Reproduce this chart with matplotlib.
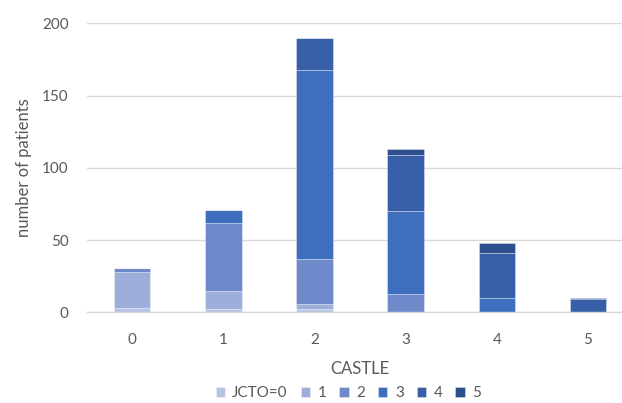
import numpy as np
import matplotlib
matplotlib.use("Agg")
import matplotlib.pyplot as plt

# ---------------------------------
# data: patients per CASTLE score, stacked by JCTO score
# ---------------------------------
castle = ["0", "1", "2", "3", "4", "5"]
jcto_labels = ["JCTO=0", "1", "2", "3", "4", "5"]

jcto0 = [3, 2, 2, 0, 0, 0]
jcto1 = [25, 13, 4, 0, 0, 0]
jcto2 = [3, 47, 31, 13, 0, 0]
jcto3 = [0, 9, 131, 57, 10, 0]
jcto4 = [0, 0, 22, 39, 31, 9]
jcto5 = [0, 0, 0, 4, 7, 1]

series = [jcto0, jcto1, jcto2, jcto3, jcto4, jcto5]
colors = ["#B7C3E5", "#9DAEDA", "#6F8ACB", "#3E6EBE", "#3860A8", "#2E4F8E"]

plt.rcParams["font.family"] = ["Lato", "DejaVu Sans"]
text_color = "#595959"

fig = plt.figure(figsize=(6.22, 4.03), dpi=100)
ax = fig.add_axes([0.1394, 0.225, 0.879, 0.717])

x = np.arange(len(castle))
bottom = np.zeros(len(castle))
for vals, col, lab in zip(series, colors, jcto_labels):
    ax.bar(x, vals, width=0.4, bottom=bottom, color=col, label=lab,
           edgecolor=(1, 1, 1, 0.6), linewidth=0.4, zorder=3)
    bottom += np.array(vals)

ax.set_xlim(-0.5, 5.5)
ax.set_ylim(0, 200)
ax.set_yticks([0, 50, 100, 150, 200])
ax.set_xticks(x)
ax.set_xticklabels(castle)

ax.yaxis.grid(True, color="#D9D9D9", linewidth=1, zorder=0)
for s in ["top", "right", "left"]:
    ax.spines[s].set_visible(False)
ax.spines["bottom"].set_color("#D9D9D9")
ax.spines["bottom"].set_linewidth(1)
ax.spines["bottom"].set_zorder(4)

ax.tick_params(axis="both", length=0, labelsize=11, colors=text_color)
ax.tick_params(axis="y", pad=13)
ax.tick_params(axis="x", pad=15)

ax.set_xlabel("CASTLE", fontsize=12, color=text_color, labelpad=10)
ax.set_ylabel("number of patients", fontsize=12, color=text_color, labelpad=7)

fig.legend(loc="center", bbox_to_anchor=(0.56, 0.024), ncol=6, frameon=False,
           fontsize=11, labelcolor=text_color, handlelength=0.6,
           handleheight=0.6, handletextpad=0.5, columnspacing=0.85,
           borderpad=0)

fig.savefig("out.png", dpi=100)
